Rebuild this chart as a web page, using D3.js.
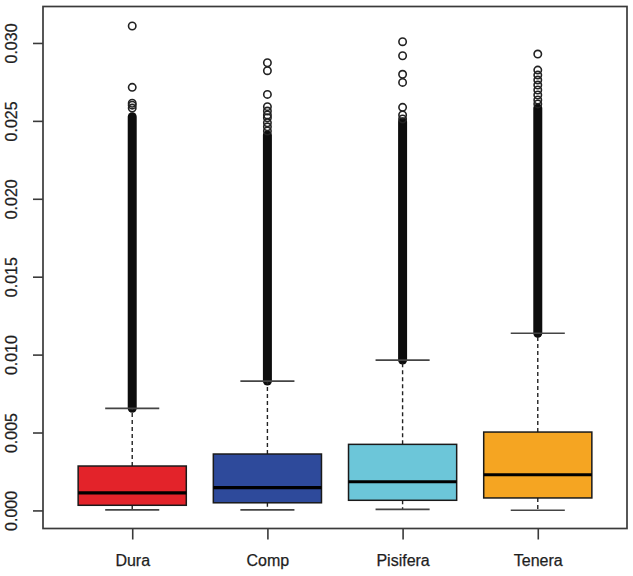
<!DOCTYPE html>
<html>
<head>
<meta charset="utf-8">
<script src="https://cdn.jsdelivr.net/npm/d3@7"></script>
<style>
  html, body { margin: 0; padding: 0; background: #fff; }
  svg { display: block; }
  text { font-family: "Liberation Sans", Arial, Helvetica, sans-serif; }
</style>
</head>
<body>
<svg id="chart" width="633" height="576"></svg>
<script>
// ---------- data ----------
const categories = ["Dura", "Comp", "Pisifera", "Tenera"];
const lowerWhisker = [0.00003, 0.00003, 0.00007, 0.00001];
const q1Values     = [0.00033, 0.00049, 0.00065, 0.00080];
const medianValues = [0.00112, 0.00146, 0.00184, 0.00229];
const q3Values     = [0.00285, 0.00362, 0.00424, 0.00503];
const upperWhisker = [0.00655, 0.00830, 0.00965, 0.01137];
// upper end of the solid mass of overlapping outliers (from the whisker up)
const denseOutlierTop = [0.02527, 0.02410, 0.02495, 0.02582];
// individual outliers visible above the dense mass
const outliersDura     = [0.03109, 0.02715, 0.02613, 0.02601, 0.02582];
const outliersComp     = [0.02873, 0.02822, 0.02670, 0.02591, 0.02563, 0.02538, 0.02520, 0.02488, 0.02462, 0.02435];
const outliersPisifera = [0.03008, 0.02918, 0.02799, 0.02747, 0.02587, 0.02538, 0.02512];
const outliersTenera   = [0.02929, 0.02826, 0.02794, 0.02762, 0.02730, 0.02698, 0.02666, 0.02634, 0.02609];
const outlierLists = [outliersDura, outliersComp, outliersPisifera, outliersTenera];
const yTickValues = [0, 0.005, 0.010, 0.015, 0.020, 0.025, 0.030];
const yTickLabels = ["0.000", "0.005", "0.010", "0.015", "0.020", "0.025", "0.030"];

// ---------- styles ----------
const boxColors = ["#e3232a", "#2e4a9b", "#6cc6d9", "#f5a522"];

// ---------- layout ----------
const svg = d3.select("#chart");
const plot = { left: 43, right: 627, top: 6.5, bottom: 528.5 };

const x = d3.scaleLinear().domain([0.34, 4.66]).range([plot.left, plot.right]);
const y = d3.scaleLinear().domain([-0.00116, 0.03234]).range([plot.bottom, plot.top]);
const unit = x(2) - x(1);
const boxW = unit * 0.8;
const capW = boxW * 0.5;

const data = categories.map((c, i) => ({
  name: c, pos: i + 1, lo: lowerWhisker[i], q1: q1Values[i], med: medianValues[i],
  q3: q3Values[i], hi: upperWhisker[i], dense: denseOutlierTop[i], out: outlierLists[i],
  color: boxColors[i]
}));

const g = svg.append("g");

// dense outlier mass
g.selectAll("line.dense").data(data).join("line")
  .attr("class", "dense")
  .attr("x1", d => x(d.pos)).attr("x2", d => x(d.pos))
  .attr("y1", d => y(d.hi)).attr("y2", d => y(d.dense))
  .attr("stroke", "#0d0d0d").attr("stroke-width", 9).attr("stroke-linecap", "round");

// individual outliers
data.forEach(d => {
  g.selectAll(null).data(d.out).join("circle")
    .attr("cx", x(d.pos)).attr("cy", v => y(v)).attr("r", 3.7)
    .attr("fill", "none").attr("stroke", "#222").attr("stroke-width", 1.6);
});

// whiskers (dashed)
g.selectAll("line.wu").data(data).join("line")
  .attr("x1", d => x(d.pos)).attr("x2", d => x(d.pos))
  .attr("y1", d => y(d.q3)).attr("y2", d => y(d.hi))
  .attr("stroke", "#222").attr("stroke-width", 1.4).attr("stroke-dasharray", "4,3");
g.selectAll("line.wl").data(data).join("line")
  .attr("x1", d => x(d.pos)).attr("x2", d => x(d.pos))
  .attr("y1", d => y(d.q1)).attr("y2", d => y(d.lo))
  .attr("stroke", "#222").attr("stroke-width", 1.4).attr("stroke-dasharray", "4,3");

// caps
["hi", "lo"].forEach(k => {
  g.selectAll(null).data(data).join("line")
    .attr("x1", d => x(d.pos) - capW / 2).attr("x2", d => x(d.pos) + capW / 2)
    .attr("y1", d => y(d[k])).attr("y2", d => y(d[k]))
    .attr("stroke", "#444").attr("stroke-width", 1.7);
});

// boxes
g.selectAll("rect.box").data(data).join("rect")
  .attr("x", d => x(d.pos) - boxW / 2).attr("width", boxW)
  .attr("y", d => y(d.q3)).attr("height", d => y(d.q1) - y(d.q3))
  .attr("fill", d => d.color).attr("stroke", "#1a1a1a").attr("stroke-width", 1.5);

// medians
g.selectAll("line.med").data(data).join("line")
  .attr("x1", d => x(d.pos) - boxW / 2).attr("x2", d => x(d.pos) + boxW / 2)
  .attr("y1", d => y(d.med)).attr("y2", d => y(d.med))
  .attr("stroke", "#000").attr("stroke-width", 3.2);

// frame
svg.append("rect")
  .attr("x", plot.left).attr("y", plot.top)
  .attr("width", plot.right - plot.left).attr("height", plot.bottom - plot.top)
  .attr("fill", "none").attr("stroke", "#3a3a3a").attr("stroke-width", 1.7);

// y axis
const yAxis = d3.axisLeft(y).tickValues(yTickValues).tickSize(10)
  .tickFormat((d, i) => yTickLabels[i]);
const ya = svg.append("g").attr("transform", `translate(${plot.left},0)`).call(yAxis);
ya.select(".domain").remove();
ya.selectAll(".tick line").attr("stroke", "#3a3a3a").attr("stroke-width", 1.6);
ya.selectAll(".tick text")
  .attr("x", null).attr("dy", null)
  .attr("transform", "translate(-26,0) rotate(-90)")
  .attr("text-anchor", "middle")
  .attr("font-size", 16).attr("fill", "#1e1e1e")
  .attr("stroke", "#1e1e1e").attr("stroke-width", 0.25)
  .attr("font-family", '"Liberation Sans", Arial, sans-serif');

// x axis
const xAxis = d3.axisBottom(x).tickValues(data.map(d => d.pos)).tickSize(11)
  .tickFormat((d, i) => categories[i]);
const xa = svg.append("g").attr("transform", `translate(0,${plot.bottom})`).call(xAxis);
xa.select(".domain").remove();
xa.selectAll(".tick line").attr("stroke", "#3a3a3a").attr("stroke-width", 1.6);
xa.selectAll(".tick text")
  .attr("y", 37.5).attr("dy", null)
  .attr("font-size", 16).attr("fill", "#1e1e1e")
  .attr("stroke", "#1e1e1e").attr("stroke-width", 0.25)
  .attr("font-family", '"Liberation Sans", Arial, sans-serif');
</script>
</body>
</html>
